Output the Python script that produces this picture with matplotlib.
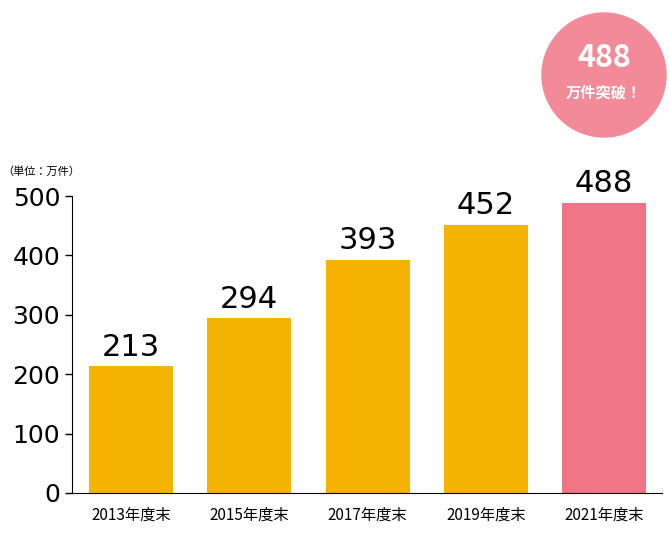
import matplotlib
matplotlib.use("Agg")
import matplotlib.pyplot as plt
from matplotlib.patches import Ellipse

categories = ["2013年度末", "2015年度末", "2017年度末", "2019年度末", "2021年度末"]
values = [213, 294, 393, 452, 488]
colors = ["#f5b300", "#f5b300", "#f5b300", "#f5b300", "#ef7485"]
yticks = [0, 100, 200, 300, 400, 500]

cjk = "Noto Sans CJK JP"
fig = plt.figure(figsize=(6.7, 5.6), dpi=100)
ax = fig.add_axes([72/670, 67/560, 590/670, 297/560])
x = list(range(len(values)))
ax.bar(x, values, width=0.71, color=colors)
ax.set_xlim(-0.499, 4.49)
ax.set_ylim(0, 500)
ax.set_yticks(yticks)
ax.set_yticklabels([str(t) for t in yticks], fontsize=18, family="DejaVu Sans")
ax.set_xticks(x)
ax.set_xticklabels(categories, fontsize=11, family=cjk)
ax.tick_params(axis="x", length=0, pad=10)
ax.tick_params(axis="y", length=5, width=1)
for s in ["top"]:
    ax.spines[s].set_visible(False)
ax.spines["right"].set_visible(False)
for xi, v in zip(x, values):
    ax.text(xi, v + 8, str(v), ha="center", va="bottom", fontsize=22)
fig.text(2/670, 1 - 172/560, "（単位：万件）", fontsize=8, family=cjk, va="center")

circ = Ellipse((604/670, 1 - 75/560), 124/670, 124/560, transform=fig.transFigure,
               color="#f28a97", zorder=0)
fig.patches.append(circ)
fig.text(604/670, 1 - 58/560, "488", ha="center", va="center", fontsize=22,
         color="white", weight="bold", family=cjk)
fig.text(604/670, 1 - 92/560, "万件突破！", ha="center", va="center", fontsize=11,
         color="white", weight="bold", family=cjk)
fig.savefig("out.png", dpi=100)
